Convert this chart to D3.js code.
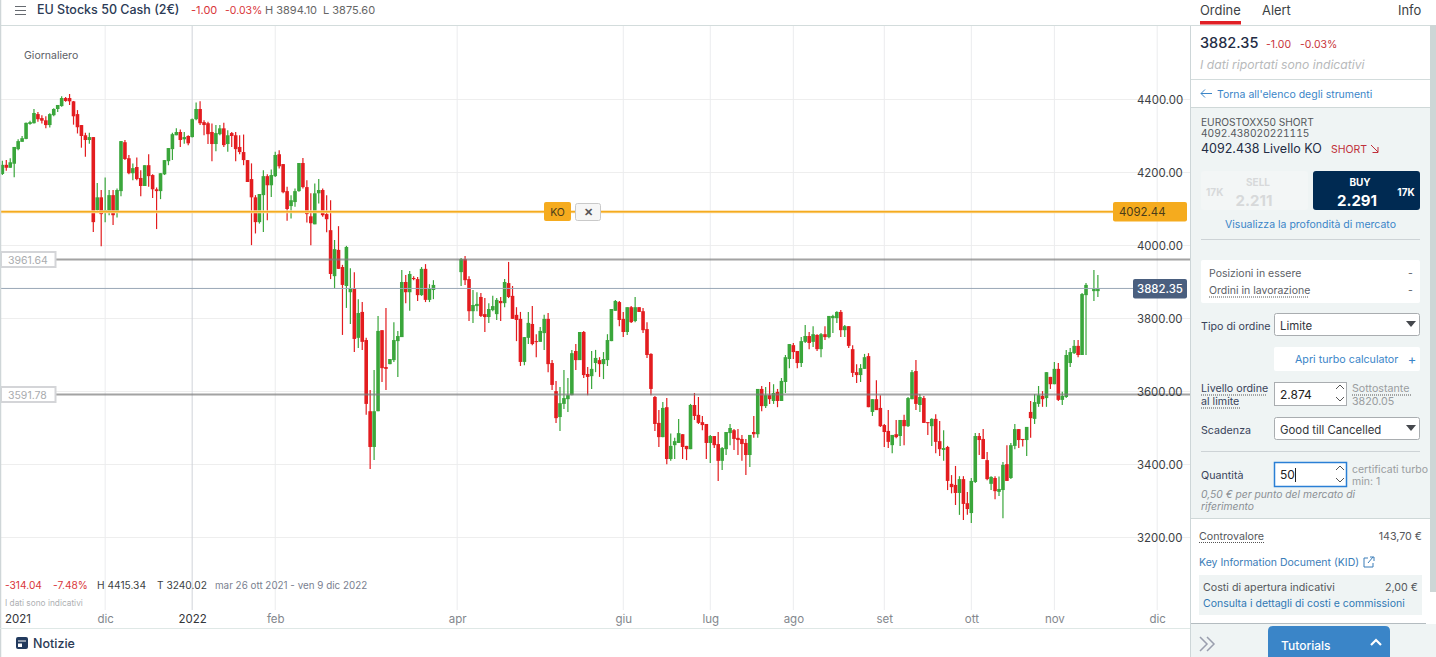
<!DOCTYPE html>
<html>
<head>
<meta charset="utf-8">
<script src="https://cdn.jsdelivr.net/npm/d3@7"></script>
<style>
  html, body { margin: 0; padding: 0; background: #fff; overflow: hidden; }
  svg { display: block; font-family: Inter, "Noto Sans", sans-serif; }
</style>
</head>
<body>
<svg id="chart" width="1436" height="657"></svg>
<script>
// daily candles, one slot per session, null = no data in the feed
const opens = [
4196,4221,4213,4224,4264,4284,4292,4333,4335,4360,
4349,4343,4330,4357,4374,4382,4404,4404,4395,4360,
4330,4302,4289,4297,4097,4132,4091,4091,4138,4091,
4149,4283,4239,4198,4215,4185,4163,4220,4193,4154,
4149,4195,4231,4264,4302,4311,4291,4300,4297,4346,
4374,4338,4335,4311,4278,4305,4321,4278,4308,4302,
4270,4256,4234,4182,4132,4064,4138,4190,4165,4190,
4250,4223,4149,4108,4119,4149,4226,4160,4080,4058,
4143,4152,4086,4042,3916,3988,3941,3889,3872,3883,
3747,3818,3741,3546,3448,3546,3768,3667,3675,3686,
3738,3749,3900,3872,3911,3908,3864,3936,3851,3878,
null,null,null,null,null,null,3927,3963,3908,3820,
3834,3859,3812,3804,3823,3812,3848,3842,3897,3862,
3810,3799,3681,3747,3785,3738,3736,3760,3799,3678,
3601,3530,3566,3579,3590,3711,3686,3763,3648,3642,
3678,3686,3675,3686,3738,3821,3845,3799,3763,3831,
3793,3831,3820,3771,3703,3585,3514,3475,3557,3415,
3453,3459,3483,3451,3442,3563,3536,3516,3511,3459,
3478,3456,3410,3442,3486,3494,3473,3470,3459,3426,
3489,3483,3607,3560,3590,3574,3599,3574,3626,3689,
3727,3711,3678,3736,3752,3736,3755,3716,3757,3749,
3801,3801,3818,3768,3779,3716,3653,3645,3662,3697,
3544,3579,3555,3508,3492,3453,3483,3478,3522,3505,
3579,3656,3563,3582,3516,3505,3525,3464,3440,3448,
3347,3344,3322,3360,3294,3267,3352,3478,3470,3412,
3347,3363,3325,3330,3401,3363,3451,3497,3470,3467,
3544,3525,3566,3588,3582,3640,3620,3662,3577,3585,
3678,3705,3725,3700,3864,null,3875,3875];
const highs = [
4232,4234,4239,4270,4291,4300,4337,4342,4374,4366,
4357,4354,4362,4376,4385,4409,4407,4415,4396,4371,
4330,4309,4309,4297,4171,4152,4186,4152,4152,4156,
4286,4289,4248,4225,4241,4206,4220,4250,4195,4159,
4198,4234,4267,4309,4321,4318,4311,4302,4348,4392,
4395,4343,4339,4334,4330,4330,4336,4316,4311,4311,
4302,4304,4234,4225,4138,4141,4206,4195,4208,4257,
4261,4223,4161,4138,4156,4226,4240,4179,4143,4170,
4182,4156,4138,4124,4015,4053,3947,3999,3938,3927,
3853,3845,3747,3604,3659,3807,3768,3829,3689,3790,
3766,3933,3919,3930,3916,3914,3941,3949,3894,3905,
null,null,null,null,null,null,3966,3971,3916,3878,
3872,3870,3856,3842,3862,3856,3859,3908,3955,3889,
3831,3818,3749,3818,3834,3757,3777,3810,3815,3686,
3629,3612,3659,3637,3714,3730,3763,3766,3667,3711,
3714,3694,3708,3757,3826,3851,3848,3818,3831,3834,
3859,3831,3829,3790,3705,3588,3549,3571,3582,3485,
3473,3525,3483,3451,3566,3596,3585,3533,3511,3481,
3478,3489,3448,3489,3511,3497,3497,3481,3470,3481,
3533,3607,3615,3612,3626,3620,3607,3637,3700,3730,
3733,3711,3749,3782,3763,3779,3757,3760,3779,3807,
3810,3820,3823,3782,3779,3727,3675,3675,3703,3705,
3579,3631,3590,3511,3549,3481,3522,3522,3536,3585,
3659,3686,3593,3588,3516,3527,3538,3519,3494,3451,
3371,3396,3368,3368,3325,3363,3486,3486,3497,3434,
3368,3368,3367,3407,3453,3459,3511,3497,3470,3503,
3574,3593,3615,3601,3653,3640,3681,3678,3599,3714,
3719,3741,3741,3870,3897,null,3933,3919];
const lows = [
4193,4205,4213,4187,4261,4284,4291,4331,4334,4339,
4334,4321,4323,4354,4366,4380,4394,4385,4331,4307,
4268,4243,4279,4037,4095,3998,4064,4083,4056,4077,
4135,4234,4195,4179,4179,4135,4163,4161,4130,4045,
4127,4193,4220,4234,4302,4270,4279,4275,4296,4343,
4330,4302,4278,4231,4258,4302,4270,4257,4270,4231,
4250,4220,4174,4001,4033,4060,4037,4069,4133,4188,
4211,4143,4068,4074,4106,4147,4156,4063,4001,4058,
4115,4079,4036,3908,3882,3936,3755,3829,3785,3708,
3719,3714,3536,3388,3412,3546,3626,3604,3675,3681,
3640,3749,3842,3821,3905,3848,3862,3845,3845,3853,
null,null,null,null,null,null,3889,3892,3793,3788,
3820,3804,3763,3788,3820,3796,3793,3831,3856,3799,
3738,3670,3672,3730,3727,3694,3736,3714,3653,3604,
3514,3492,3552,3544,3590,3659,3686,3637,3590,3607,
3653,3640,3634,3670,3738,3821,3779,3749,3755,3788,
3790,3818,3760,3692,3590,3492,3448,3475,3401,3410,
3415,3459,3415,3412,3442,3522,3511,3494,3415,3404,
3445,3355,3385,3426,3453,3440,3426,3410,3371,3393,
3473,3473,3546,3555,3566,3566,3557,3574,3596,3664,
3689,3664,3667,3733,3716,3722,3711,3694,3741,3746,
3760,3788,3749,3749,3719,3640,3623,3626,3662,3557,
3533,3549,3503,3448,3445,3431,3472,3451,3453,3503,
3579,3549,3544,3514,3481,3451,3431,3423,3410,3330,
3321,3289,3262,3248,3262,3240,3349,3426,3415,3357,
3330,3305,3314,3253,3355,3360,3442,3445,3449,3423,
3473,3511,3558,3558,3558,3607,3620,3574,3563,3582,
3667,3703,3694,3700,3700,null,3848,3859];
const closes = [
4221,4213,4228,4270,4286,4294,4336,4338,4363,4346,
4342,4330,4360,4374,4385,4404,4396,4395,4354,4324,
4300,4289,4297,4064,4132,4086,4097,4138,4083,4152,
4286,4237,4198,4212,4182,4163,4220,4190,4154,4149,
4198,4234,4267,4305,4311,4289,4297,4280,4346,4374,
4335,4330,4305,4278,4308,4321,4275,4302,4300,4264,
4256,4234,4174,4132,4064,4141,4190,4165,4193,4248,
4217,4146,4100,4124,4149,4226,4160,4086,4061,4143,
4152,4083,4072,3922,3990,3936,3892,3996,3883,3744,
3815,3736,3566,3448,3546,3766,3664,3662,3689,3741,
3752,3900,3872,3922,3908,3864,3936,3851,3881,3892,
null,null,null,null,null,null,3963,3905,3820,3837,
3840,3807,3804,3826,3834,3851,3842,3900,3859,3799,
3796,3681,3749,3788,3730,3736,3766,3799,3675,3618,
3527,3568,3582,3590,3705,3686,3763,3645,3640,3662,
3692,3675,3689,3741,3826,3848,3796,3763,3831,3790,
3831,3818,3768,3700,3607,3511,3475,3555,3415,3451,
3464,3486,3448,3442,3563,3533,3514,3508,3459,3478,
3453,3410,3445,3489,3500,3470,3467,3456,3426,3481,
3483,3607,3560,3590,3579,3596,3574,3629,3694,3730,
3708,3678,3738,3752,3733,3757,3716,3757,3749,3807,
3807,3818,3768,3779,3725,3651,3645,3664,3694,3557,
3579,3549,3505,3489,3462,3481,3475,3522,3505,3582,
3653,3566,3585,3514,3514,3525,3462,3442,3445,3355,
3338,3322,3360,3292,3278,3355,3478,3467,3415,3360,
3366,3327,3333,3399,3355,3453,3497,3467,3467,3503,
3527,3571,3590,3579,3653,3620,3662,3577,3588,3700,
3708,3725,3700,3867,3892,null,3881,3883];

const priceTicks = [4400, 4200, 4000, 3800, 3600, 3400, 3200];
const monthSlots = [26, 48, 69, 115, 157, 179, 200, 223, 245, 266, 292];
const monthLabels = ["dic", "2022", "feb", "apr", "giu", "lug", "ago", "set", "ott", "nov", "dic"];
const yearSlots = [48];

const koLevel = 4092.44;
const lastPrice = 3882.35;
const hLevels = [3961.64, 3591.78];

const svg = d3.select("#chart");
const chartRight = 1190, chartTop = 25;

const x = d3.scaleLinear().domain([0, 292]).range([2.33, 1157.2]);
const y = d3.scaleLinear().domain([3200, 4400]).range([537.5, 99.5]);

const RED = "#e31c1f", GREEN = "#3aa63b", BLUE = "#3a85c8", INK = "#2b3a55", GREY = "#5c6066";

function txt(px, py, s, o = {}) {
  return svg.append("text")
    .attr("x", px).attr("y", py)
    .attr("font-size", o.size || 11)
    .attr("fill", o.fill || GREY)
    .attr("text-anchor", o.anchor || "start")
    .attr("font-weight", o.weight || 400)
    .attr("font-style", o.italic ? "italic" : "normal")
    .style("font-feature-settings", o.tnum ? '"tnum"' : null)
    .text(s);
}
function box(px, py, w, h, fill, stroke, r) {
  return svg.append("rect")
    .attr("x", px).attr("y", py).attr("width", w).attr("height", h)
    .attr("rx", r || 0)
    .attr("fill", fill)
    .attr("stroke", stroke || "none");
}
function rule(x1, y1, x2, y2, color, w, dash) {
  return svg.append("line")
    .attr("x1", x1).attr("y1", y1).attr("x2", x2).attr("y2", y2)
    .attr("stroke", color).attr("stroke-width", w || 1)
    .attr("stroke-dasharray", dash || null);
}
function dotted(px, py, w) { rule(px, py, px + w, py, "#555", 1, "1,1"); }

// grid
svg.append("g").selectAll("line").data(priceTicks).join("line")
  .attr("x1", 0).attr("x2", chartRight)
  .attr("y1", d => y(d)).attr("y2", d => y(d))
  .attr("stroke", "#eeeeee");

svg.append("g").selectAll("line").data(monthSlots).join("line")
  .attr("x1", d => x(d)).attr("x2", d => x(d))
  .attr("y1", chartTop).attr("y2", 610)
  .attr("stroke", d => yearSlots.includes(d) ? "#d0d3da" : "#ebecee");

// candles
const slots = d3.range(opens.length).filter(i => opens[i] !== null);
const candleColor = i => closes[i] > opens[i] ? GREEN : RED;

svg.append("g").selectAll("line").data(slots).join("line")
  .attr("x1", i => x(i)).attr("x2", i => x(i))
  .attr("y1", i => y(highs[i])).attr("y2", i => y(lows[i]))
  .attr("stroke", candleColor).attr("stroke-width", 1.2);

svg.append("g").selectAll("rect").data(slots).join("rect")
  .attr("x", i => x(i) - 1.8).attr("width", 3.6)
  .attr("y", i => y(Math.max(opens[i], closes[i])))
  .attr("height", i => Math.max(1, Math.abs(y(opens[i]) - y(closes[i]))))
  .attr("fill", candleColor);

// level lines
svg.append("g").selectAll("line").data(hLevels).join("line")
  .attr("x1", 56).attr("x2", chartRight)
  .attr("y1", d => y(d)).attr("y2", d => y(d))
  .attr("stroke", "#7c7c7c").attr("stroke-opacity", 0.7).attr("stroke-width", 2);

hLevels.forEach(d => {
  box(1, y(d) - 7.5, 54.5, 15, "#fff", "#d4d5d8").attr("stroke-width", 2);
  txt(8, y(d) + 4, d.toFixed(2), { size: 10.5, fill: "#a9abae" });
});

rule(0, y(lastPrice), 1133, y(lastPrice), "#9aa7b6", 1);
rule(0, y(koLevel), 1113, y(koLevel), "#fbdca4", 3);
rule(0, y(koLevel), 1113, y(koLevel), "#f5ab1e", 1.5);

// y axis
const yAxis = d3.axisRight(y).tickValues(priceTicks).tickSize(0).tickFormat(d3.format(".2f"));
const yG = svg.append("g").attr("transform", "translate(1137,0)").call(yAxis);
yG.select(".domain").remove();
yG.selectAll("text").attr("x", 0).attr("font-size", 11.4).attr("font-family", "Inter").attr("fill", "#3c3f44");

// x axis
const xAxis = d3.axisBottom(x).tickValues(monthSlots).tickSize(0).tickFormat((d, i) => monthLabels[i]);
const xG = svg.append("g").attr("transform", "translate(0,615)").call(xAxis);
xG.select(".domain").remove();
xG.selectAll("text").attr("y", 0).attr("dy", "0.72em")
  .attr("font-size", 11.5).attr("font-family", "Inter")
  .attr("fill", d => yearSlots.includes(d) ? "#33363b" : "#83878d");
txt(5, 623, "2021", { size: 11.5, fill: "#33363b" });

// KO + last price tags
box(544, 202, 27, 19, "#f5ab1e", null, 2);
txt(557.5, 216, "KO", { size: 10.5, anchor: "middle", fill: "#4a3c1a" });
box(575.5, 203.5, 25, 17, "#f6f6f6", "#c9c9c9", 2);
txt(588, 216, "✕", { size: 10.5, anchor: "middle", fill: "#555", weight: 700 });
box(1113, 202, 74, 19.5, "#f5ab1e", null, 2);
txt(1119, 216, "4092.44", { size: 11.4, fill: "#4a3c1a" });
box(1133, 279, 54, 19.5, "#4a5f7f", null, 2);
txt(1160, 293, "3882.35", { size: 11.4, anchor: "middle", fill: "#fff", weight: 500 });

txt(24, 59, "Giornaliero", { size: 10.5 });

// stats strip
txt(5, 589, "-314.04", { size: 10.2, fill: "#d9363a" });
txt(53, 589, "-7.48%", { size: 10.2, fill: "#d9363a" });
txt(97, 589, "H 4415.34", { size: 10.2, fill: "#3c3f44" });
txt(157, 589, "T 3240.02", { size: 10.2, fill: "#3c3f44" });
txt(215, 589, "mar 26 ott 2021 - ven 9 dic 2022", { size: 9.85, fill: "#7a7f90" });
txt(5, 606, "I dati sono indicativi", { size: 8.3, fill: "#aeb0b3" });

// header
rule(0, 25.5, 1430, 25.5, "#d3dcdc");
rule(0.5, 0, 0.5, 657, "#cfd6d8", 1.5);
[6, 10, 14].forEach(d => rule(15, d + 0.5, 26, d + 0.5, "#666a70", 1));
txt(37, 14, "EU Stocks 50 Cash (2€)", { size: 12.5, fill: INK, weight: 500 });
txt(191, 14, "-1.00", { size: 11, fill: "#d9363a" });
txt(225, 14, "-0.03%", { size: 10.5, fill: "#d9363a" });
txt(265, 14, "H 3894.10", { size: 11, fill: "#666" });
txt(323, 14, "L 3875.60", { size: 11, fill: "#666" });

// footer of chart
rule(0, 628.5, chartRight, 628.5, "#dfe8e6");
box(16, 637, 12, 12, "#223a5e", null, 2);
rule(18, 641, 26, 641, "#fff", 1);
box(18, 643.5, 4, 3.5, "#fff");
txt(33, 648, "Notizie", { size: 12.5, fill: INK, weight: 500 });

// ---- side panel ----
box(1190, 0, 246, 657, "#fff");
rule(1190.5, 25, 1190.5, 657, "#cdd6d8", 1);
box(1430, 25, 6, 567, "#cdd6d6");
rule(1190, 25.5, 1430, 25.5, "#d3dcdc");
txt(1200, 15, "Ordine", { size: 12.9, fill: "#3c3f44" });
box(1200, 21, 41, 3.5, "#e01f26");
txt(1262, 15, "Alert", { size: 12.9, fill: "#3c3f44" });
txt(1398, 15, "Info", { size: 12.9, fill: "#3c3f44" });

txt(1200, 48, "3882.35", { size: 14.5, fill: "#232c44", weight: 500 });
txt(1266, 48, "-1.00", { size: 10.5, fill: "#c8353a" });
txt(1300, 48, "-0.03%", { size: 10.5, fill: "#c8353a" });
txt(1200, 69, "I dati riportati sono indicativi", { size: 12.2, fill: "#b8babb", italic: true });
rule(1191, 79.5, 1430, 79.5, "#d3dcdc");

svg.append("path").attr("d", "M1212 93.5H1201M1205 89.5L1201 93.5L1205 97.5").attr("fill", "none").attr("stroke", BLUE);
txt(1217, 98, "Torna all'elenco degli strumenti", { size: 10.5, fill: BLUE });
rule(1191, 107.5, 1430, 107.5, "#cfd8d8");

box(1191, 108, 239, 410, "#eff4f4");
txt(1201, 126, "EUROSTOXX50 SHORT", { size: 10.2, fill: "#55585c" });
txt(1201, 137, "4092.438020221115", { size: 10.2, fill: "#55585c", tnum: true });
txt(1201, 153, "4092.438 Livello KO", { size: 12.5, fill: "#232c44" });
txt(1331, 153, "SHORT", { size: 10.5, fill: "#c0303a" });
svg.append("path").attr("d", "M1371 145L1378 152M1378 147V152.5H1372.5").attr("fill", "none").attr("stroke", "#c0303a");

box(1201, 171, 107, 39, "#f3f6f6", null, 3);
txt(1206, 196, "17K", { size: 10, fill: "#d7d9da", weight: 700 });
txt(1258, 186, "SELL", { size: 10, anchor: "middle", fill: "#d7d9da", weight: 700 });
txt(1254, 206, "2.211", { size: 15, anchor: "middle", fill: "#d7d9da", weight: 700 });
box(1313, 171, 107, 39, "#002a52", null, 3);
txt(1360, 186, "BUY", { size: 10, anchor: "middle", fill: "#fff", weight: 700 });
txt(1357, 206, "2.291", { size: 15, anchor: "middle", fill: "#fff", weight: 700 });
txt(1406, 196, "17K", { size: 10, anchor: "middle", fill: "#fff", weight: 700 });
txt(1310.5, 228, "Visualizza la profondità di mercato", { size: 10.5, anchor: "middle", fill: BLUE });
rule(1201, 239.5, 1420, 239.5, "#cdd3d6");

box(1201, 260, 219, 43, "#fff", null, 2);
txt(1209, 277, "Posizioni in essere", { size: 10.5 });
txt(1408, 277, "-", { size: 10.5 });
txt(1209, 294, "Ordini in lavorazione", { size: 10.5 });
dotted(1209, 297, 100);
txt(1408, 294, "-", { size: 10.5 });

function selectBox(py, label) {
  box(1274.5, py + 0.5, 145, 22, "#fff", "#a9adb0", 2);
  txt(1280, py + 17, label, { size: 11.4, fill: "#33363b" });
  svg.append("path").attr("d", `M1406 ${py + 8}h10l-5 6z`).attr("fill", "#44474c");
}
function spinner(px, py) {
  svg.append("path").attr("d", `M${px} ${py + 4}l4 -4l4 4M${px} ${py + 12}l4 4l4 -4`)
    .attr("fill", "none").attr("stroke", "#555");
}

txt(1201, 330, "Tipo di ordine", { size: 10.7, fill: "#39435a" });
selectBox(313, "Limite");
box(1274, 347, 146, 24, "#fff", null, 2);
txt(1295, 363, "Apri turbo calculator", { size: 10.7, fill: BLUE });
txt(1412, 364, "+", { size: 13, fill: BLUE, anchor: "middle" });

txt(1201, 392, "Livello ordine", { size: 10.7, fill: "#39435a" });
dotted(1201, 395, 66);
txt(1201, 405, "al limite", { size: 10.7, fill: "#39435a" });
dotted(1201, 408, 39);
box(1274.5, 382.5, 72, 23, "#fff", "#a9adb0");
txt(1280, 399, "2.874", { size: 12, fill: "#222" });
spinner(1336, 385);
txt(1352, 392, "Sottostante", { size: 10.7, fill: "#9a9da0" });
dotted(1352, 395, 59);
txt(1352, 405, "3820.05", { size: 10.7, fill: "#9a9da0" });

txt(1201, 434, "Scadenza", { size: 10.7, fill: "#39435a" });
selectBox(417, "Good till Cancelled");
rule(1201, 451.5, 1420, 451.5, "#cdd3d6");

txt(1201, 479, "Quantità", { size: 10.7, fill: "#39435a" });
box(1274.5, 462.5, 72, 24, "#fff", "#2a7fd5").attr("stroke-width", 1.5);
txt(1280, 479, "50", { size: 12, fill: "#222" });
rule(1295.5, 468, 1295.5, 482, "#222");
spinner(1336, 466);
txt(1352, 473, "certificati turbo", { size: 10.5, fill: "#9a9da0" });
txt(1352, 485, "min: 1", { size: 10.5, fill: "#9a9da0" });
txt(1201, 498, "0,50 € per punto del mercato di", { size: 10.3, fill: "#8b9094", italic: true });
txt(1201, 510, "riferimento", { size: 10.3, fill: "#8b9094", italic: true });

rule(1191, 518.5, 1430, 518.5, "#cfd8d8");
txt(1199, 540, "Controvalore", { size: 10.7, fill: "#55585c" });
dotted(1199, 542.5, 65);
txt(1422, 540, "143,70 €", { size: 10.7, fill: "#55585c", anchor: "end" });
txt(1199, 566, "Key Information Document (KID)", { size: 10.5, fill: "#3a7cb8" });
svg.append("path").attr("d", "M1368 558h-4v9h9v-4M1368 563l5 -6M1370 557h4v4").attr("fill", "none").attr("stroke", "#3a7cb8");
box(1199, 575, 223, 40, "#eff4f4");
txt(1203, 591, "Costi di apertura indicativi", { size: 10.7, fill: "#55585c" });
txt(1418, 591, "2,00 €", { size: 10.7, fill: "#55585c", anchor: "end" });
txt(1203, 607, "Consulta i dettagli di costi e commissioni", { size: 10.5, fill: "#2f78b5" });

rule(1191, 623.5, 1426, 623.5, "#b4bcc0");
box(1191, 624, 245, 33, "#eff4f4");
svg.append("path").attr("d", "M1200 637l7 7l-7 7M1207 637l7 7l-7 7").attr("fill", "none").attr("stroke", "#9a9fae").attr("stroke-width", 1.5);
svg.append("path").attr("d", "M1268 657V631q0 -5 5 -5H1385q5 0 5 5V657z").attr("fill", BLUE);
txt(1281, 650, "Tutorials", { size: 12, fill: "#fff", weight: 500 });
svg.append("path").attr("d", "M1371 645l5 -5l5 5").attr("fill", "none").attr("stroke", "#fff").attr("stroke-width", 2.2);
</script>
</body>
</html>
